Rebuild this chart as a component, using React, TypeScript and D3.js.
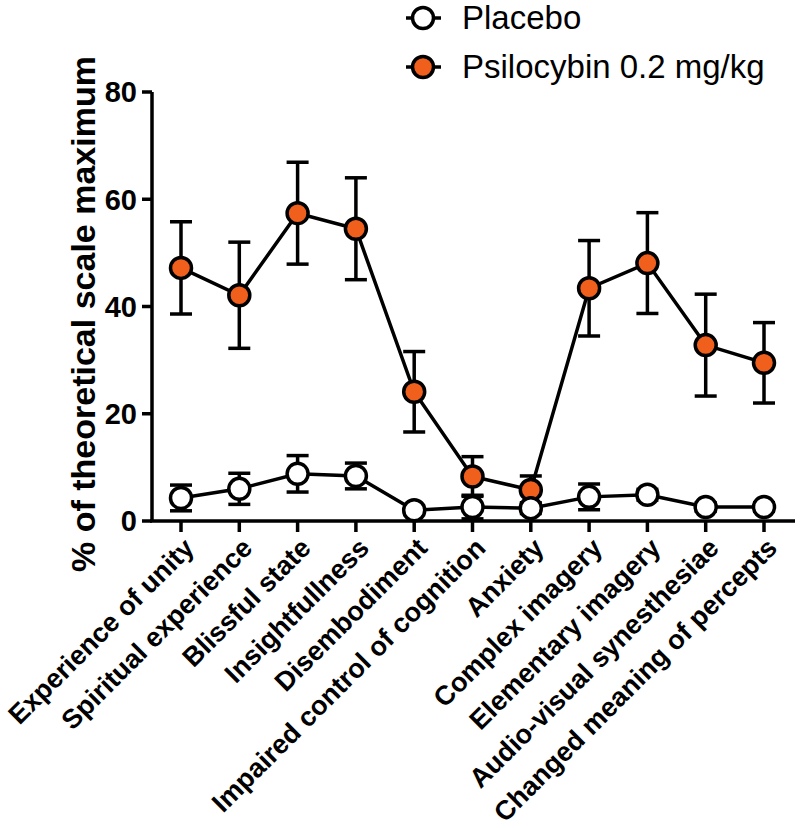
import React from "react";
import * as d3 from "d3";

const categories = [
  "Experience of unity",
  "Spiritual experience",
  "Blissful state",
  "Insightfullness",
  "Disembodiment",
  "Impaired control of cognition",
  "Anxiety",
  "Complex imagery",
  "Elementary imagery",
  "Audio-visual synesthesiae",
  "Changed meaning of percepts",
];

const placeboMean = [4.3, 6.0, 8.8, 8.4, 2.0, 2.6, 2.4, 4.5, 4.9, 2.6, 2.6];
const placeboSem = [2.4, 2.9, 3.4, 2.4, 0.8, 2.2, 1.0, 2.4, 1.0, 0.8, 0.8];
const psiloMean = [47.2, 42.1, 57.4, 54.5, 24.1, 8.3, 5.8, 43.4, 48.1, 32.8, 29.5];
const psiloSem = [8.6, 9.9, 9.5, 9.5, 7.5, 3.7, 2.6, 8.9, 9.4, 9.5, 7.5];

const yTicks = [0, 20, 40, 60, 80];
const seriesNames = ["Placebo", "Psilocybin 0.2 mg/kg"];

const ORANGE = "#f0601c";
const FONT = "'Liberation Sans', Arial, Helvetica, sans-serif";

export default function App() {
  const W = 800;
  const H = 828;
  const x0 = 152;
  const x1 = 795;
  const y = d3.scaleLinear().domain([0, 80]).range([521, 92]);
  const x = d3
    .scalePoint<string>()
    .domain(categories)
    .range([181, 764]);

  const line = d3
    .line<number>()
    .x((_, i) => x(categories[i]) as number)
    .y((d) => y(d));

  const SW = 3.5;
  const R = 10.5;
  const CAP = 11;

  const renderSeries = (
    mean: number[],
    sem: number[],
    fill: string,
    key: string
  ) => (
    <g key={key}>
      {mean.map((m, i) => {
        const cx = x(categories[i]) as number;
        const top = y(m + sem[i]);
        const bot = y(Math.max(0, m - sem[i]));
        return (
          <g key={i} stroke="#000" strokeWidth={SW}>
            <line x1={cx} x2={cx} y1={top} y2={bot} />
            <line x1={cx - CAP} x2={cx + CAP} y1={top} y2={top} />
            <line x1={cx - CAP} x2={cx + CAP} y1={bot} y2={bot} />
          </g>
        );
      })}
      <path d={line(mean) || ""} fill="none" stroke="#000" strokeWidth={SW} />
      {mean.map((m, i) => (
        <circle
          key={i}
          cx={x(categories[i]) as number}
          cy={y(m)}
          r={R}
          fill={fill}
          stroke="#000"
          strokeWidth={3.5}
        />
      ))}
    </g>
  );

  return (
    <svg
      width={W}
      height={H}
      style={{ position: "absolute", left: 0, top: 0, background: "#fff" }}
      fontFamily={FONT}
    >
      <rect width={W} height={H} fill="#fff" />
      {/* Y axis */}
      <line x1={x0} x2={x0} y1={y(80)} y2={y(0)} stroke="#000" strokeWidth={3.5} />
      {yTicks.map((t) => (
        <g key={t}>
          <line x1={x0 - 10} x2={x0} y1={y(t)} y2={y(t)} stroke="#000" strokeWidth={3.5} />
          <text
            x={x0 - 15}
            y={y(t)}
            dy="0.36em"
            textAnchor="end"
            fontSize={29}
            fontWeight="bold"
          >
            {t}
          </text>
        </g>
      ))}
      {/* X axis */}
      <line x1={x0 - 2} x2={x1} y1={y(0)} y2={y(0)} stroke="#000" strokeWidth={3.5} />
      {categories.map((c) => {
        const cx = x(c) as number;
        return (
          <g key={c}>
            <line x1={cx} x2={cx} y1={y(0)} y2={y(0) + 11} stroke="#000" strokeWidth={3.5} />
            <text
              transform={`translate(${cx + 8},${y(0) + 22}) rotate(-45)`}
              textAnchor="end"
              dy="0.35em"
              fontSize={27}
              fontWeight="bold"
            >
              {c}
            </text>
          </g>
        );
      })}
      {/* Y label */}
      <text
        transform={`translate(95,${314}) rotate(-90)`}
        textAnchor="middle"
        fontSize={34}
        fontWeight="bold"
      >
        % of theoretical scale maximum
      </text>

      {renderSeries(psiloMean, psiloSem, ORANGE, "psilo")}
      {renderSeries(placeboMean, placeboSem, "#fff", "placebo")}

      {/* Legend */}
      {seriesNames.map((n, i) => {
        const ly = 18 + i * 49;
        return (
          <g key={n}>
            <line x1={406} x2={441} y1={ly} y2={ly} stroke="#000" strokeWidth={SW} />
            <circle
              cx={423}
              cy={ly}
              r={R}
              fill={i === 0 ? "#fff" : ORANGE}
              stroke="#000"
              strokeWidth={3.5}
            />
            <text x={462} y={ly + 11} fontSize={33}>
              {n}
            </text>
          </g>
        );
      })}
    </svg>
  );
}
